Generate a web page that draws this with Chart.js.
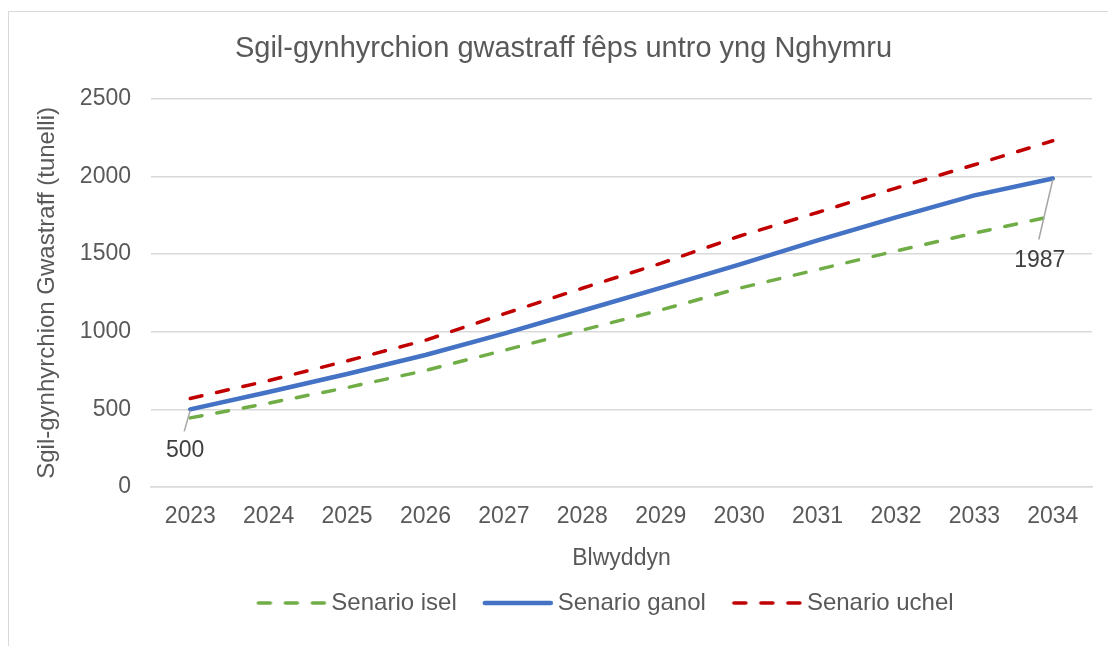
<!DOCTYPE html>
<html>
<head>
<meta charset="utf-8">
<script src="https://cdn.jsdelivr.net/npm/chart.js@4/dist/chart.umd.min.js"></script>
<style>
  html, body { margin: 0; padding: 0; background: #fff; overflow: hidden; }
  #wrap { position: absolute; left: 8px; top: 11px; width: 1100px; height: 635px;
          border-left: 1px solid #d9d9d9; border-top: 1px solid #d9d9d9; }
</style>
</head>
<body>
<div id="wrap"><canvas id="chart" width="1100" height="635"></canvas></div>
<script>
const years = ['2023', '2024', '2025', '2026', '2027', '2028', '2029', '2030', '2031', '2032', '2033', '2034'];
const lowScenario = [445, 540, 640, 750, 880, 1010, 1140, 1280, 1400, 1520, 1635, 1745];
const midScenario = [500, 612, 728, 850, 988, 1135, 1282, 1432, 1588, 1736, 1878, 1987];
const highScenario = [570, 685, 812, 945, 1115, 1280, 1440, 1615, 1768, 1925, 2075, 2230];
const yTicks = [0, 500, 1000, 1500, 2000, 2500];

const textGrey = '#595959';
const fontFamily = '"Liberation Sans", Arial, sans-serif';
const dash = [12, 15];

// line images for the legend; the line sits to the right so the text follows closely
function legendLine(color, width, dashed) {
  const c = document.createElement('canvas');
  c.width = 100;
  c.height = 8;
  const g = c.getContext('2d');
  g.strokeStyle = color;
  g.lineWidth = width;
  g.lineCap = 'round';
  if (dashed) g.setLineDash(dash);
  g.beginPath();
  g.moveTo(24, 4);
  g.lineTo(90, 4);
  g.stroke();
  return c;
}

// Excel centres title and legend a bit right of the canvas centre
const shiftBlocks = {
  id: 'shiftBlocks',
  afterLayout(chart) {
    if (chart.titleBlock) { chart.titleBlock.left += 13; chart.titleBlock.right += 13; }
    if (chart.legend) { chart.legend.left += 51; chart.legend.right += 51; }
  }
};

// labels for first and last point of the middle scenario, with leader lines
const pointLabels = {
  id: 'pointLabels',
  afterDatasetsDraw(chart) {
    const ctx = chart.ctx;
    const meta = chart.getDatasetMeta(1);
    const marks = [
      { i: 0, dx: -5, dy: 41, lx: -6, ly: 22 },
      { i: midScenario.length - 1, dx: -13, dy: 82, lx: -14, ly: 61 }
    ];
    ctx.save();
    marks.forEach(m => {
      const pt = meta.data[m.i];
      ctx.strokeStyle = '#a6a6a6';
      ctx.lineWidth = 1.5;
      ctx.beginPath();
      ctx.moveTo(pt.x, pt.y + 1);
      ctx.lineTo(pt.x + m.lx, pt.y + m.ly);
      ctx.stroke();
      ctx.fillStyle = '#404040';
      ctx.font = '23px ' + fontFamily;
      ctx.textAlign = 'center';
      ctx.textBaseline = 'middle';
      ctx.fillText(String(midScenario[m.i]), pt.x + m.dx, pt.y + m.dy);
    });
    ctx.restore();
  }
};

new Chart(document.getElementById('chart').getContext('2d'), {
  type: 'line',
  data: {
    labels: years,
    datasets: [
      {
        label: 'Senario isel',
        data: lowScenario,
        borderColor: '#70ad47',
        backgroundColor: '#70ad47',
        borderWidth: 3.5,
        borderDash: dash,
        borderCapStyle: 'round',
        pointRadius: 0,
        pointStyle: legendLine('#70ad47', 3.5, true),
        tension: 0
      },
      {
        label: 'Senario ganol',
        data: midScenario,
        borderColor: '#4472c4',
        backgroundColor: '#4472c4',
        borderWidth: 4.5,
        borderCapStyle: 'round',
        pointRadius: 0,
        pointStyle: legendLine('#4472c4', 4.5, false),
        tension: 0
      },
      {
        label: 'Senario uchel',
        data: highScenario,
        borderColor: '#c00000',
        backgroundColor: '#c00000',
        borderWidth: 3.5,
        borderDash: dash,
        borderCapStyle: 'round',
        pointRadius: 0,
        pointStyle: legendLine('#c00000', 3.5, true),
        tension: 0
      }
    ]
  },
  options: {
    responsive: false,
    animation: false,
    layout: { padding: { left: 0, right: 17, top: 0, bottom: 22 } },
    plugins: {
      title: {
        display: true,
        text: 'Sgil-gynhyrchion gwastraff fêps untro yng Nghymru',
        color: textGrey,
        font: { family: fontFamily, size: 29, weight: 'normal' },
        padding: { top: 20, bottom: 32 }
      },
      legend: {
        position: 'bottom',
        labels: {
          color: textGrey,
          font: { family: fontFamily, size: 24 },
          usePointStyle: true,
          pointStyleWidth: 70,
          boxHeight: 8,
          padding: 19
        }
      },
      tooltip: { enabled: false }
    },
    scales: {
      x: {
        offset: true,
        afterFit(axis) { axis.height = 85; },
        grid: { display: false, drawTicks: false },
        border: { color: '#d9d9d9', width: 1.5 },
        ticks: { color: textGrey, font: { family: fontFamily, size: 23 }, padding: 16, maxRotation: 0 },
        title: {
          display: true,
          text: 'Blwyddyn',
          color: textGrey,
          font: { family: fontFamily, size: 23 },
          padding: { top: 10, bottom: 0 }
        }
      },
      y: {
        min: 0,
        max: 2500,
        afterFit(axis) { axis.width = 142; },
        afterBuildTicks(axis) { axis.ticks = yTicks.map(v => ({ value: v })); },
        grid: { color: '#d9d9d9', lineWidth: 1.5, drawTicks: false },
        border: { display: false },
        ticks: {
          color: textGrey,
          font: { family: fontFamily, size: 23 },
          padding: 20,
          callback: v => String(v)
        },
        title: {
          display: true,
          text: 'Sgil-gynhyrchion Gwastraff (tunelli)',
          color: textGrey,
          font: { family: fontFamily, size: 24 },
          padding: { top: 24, bottom: 10 }
        }
      }
    }
  },
  plugins: [pointLabels, shiftBlocks]
});
</script>
</body>
</html>
